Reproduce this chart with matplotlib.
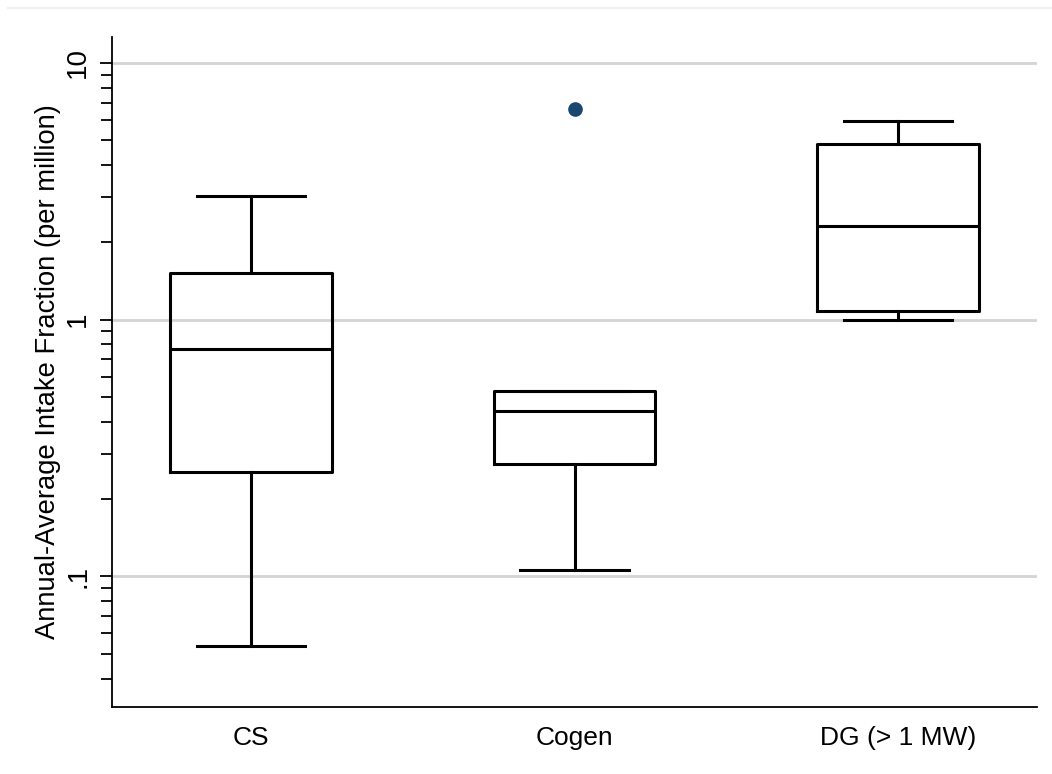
import numpy as np
import matplotlib
matplotlib.use("Agg")
import matplotlib.pyplot as plt
from matplotlib.ticker import LogLocator, FixedLocator, NullFormatter

plt.rcParams['font.family'] = ['Liberation Sans', 'DejaVu Sans']

# box plot summaries (per million)
groups = ["CS", "Cogen", "DG (> 1 MW)"]
whislo = [0.0537, 0.106, 1.0]
q1 = [0.256, 0.275, 1.08]
med = [0.77, 0.442, 2.32]
q3 = [1.52, 0.529, 4.83]
whishi = [3.04, 0.529, 5.93]
fliers = [[], [6.58], []]

stats = []
for i in range(len(groups)):
    stats.append(dict(label=groups[i], whislo=whislo[i], q1=q1[i], med=med[i],
                      q3=q3[i], whishi=whishi[i], fliers=fliers[i]))

fig = plt.figure(figsize=(10.52, 7.74), dpi=100)
ax = fig.add_axes([112 / 1052, 1 - 707 / 774, (1037 - 112) / 1052, (707 - 37) / 774])

line = dict(color="black", linewidth=2.2)
ax.bxp(stats, positions=[1, 2, 3], widths=0.5, boxprops=line, medianprops=line,
       whiskerprops=line, capprops=line, capwidths=0.335,
       flierprops=dict(marker="o", markersize=9.5, markerfacecolor="#1a476f",
                       markeredgecolor="#1a476f"), zorder=3)

ax.set_yscale("log")
ax.set_ylim(0.031, 12.6)
ax.set_xlim(0.57, 3.43)

ax.yaxis.set_major_locator(FixedLocator([0.1, 1, 10]))
ax.set_yticklabels([".1", "1", "10"], rotation=90, va="center", fontsize=20)
ax.yaxis.set_minor_locator(LogLocator(base=10, subs=np.arange(2, 10)))
ax.yaxis.set_minor_formatter(NullFormatter())
ax.tick_params(axis="y", which="major", length=9, width=1.3, pad=6)
ax.tick_params(axis="y", which="minor", length=8, width=1.3)
ax.tick_params(axis="x", length=0, pad=14, labelsize=19)

for y in [0.1, 1, 10]:
    ax.axhline(y, color="#d4d4d4", linewidth=2, zorder=1)

ax.spines["top"].set_visible(False)
ax.spines["right"].set_visible(False)
ax.spines["left"].set_linewidth(1.3)
ax.spines["bottom"].set_linewidth(1.3)

ax.set_ylabel("Annual-Average Intake Fraction (per million)", fontsize=19.7, labelpad=3)

# faint outer frame line at the top
fig.add_artist(plt.Line2D([8 / 1052, 1], [1 - 8 / 774, 1 - 8 / 774],
                          color="#eef0f2", linewidth=1.5))

fig.savefig("out.png", dpi=100)
